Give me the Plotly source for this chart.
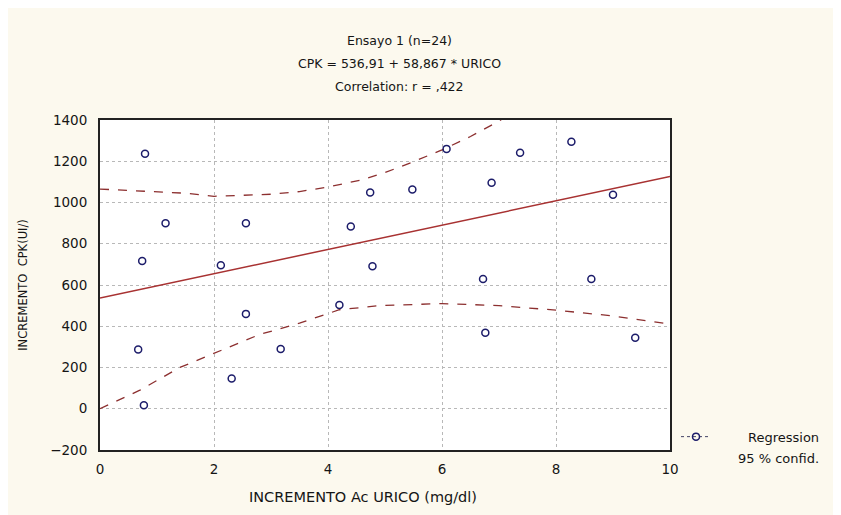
import plotly.graph_objects as go
import numpy as np

# Data
acido_urico = [0.79, 1.15, 0.74, 2.12, 2.56, 0.67, 0.77, 2.31, 2.56, 3.17,
               4.74, 5.48, 6.08, 7.37, 8.27, 6.87, 9.00, 4.40, 4.78, 6.72,
               8.62, 4.20, 6.76, 9.39]
cpk = [1236, 899, 716, 696, 899, 287, 17, 147, 460, 290,
       1048, 1063, 1260, 1241, 1294, 1096, 1038, 884, 691, 629,
       629, 503, 369, 344]

intercept = 536.91
slope = 58.867

upper_x = [0, 0.7, 1.5, 2.0, 2.5, 3.0, 3.5, 4.0, 4.6, 5.0, 5.5, 6.0, 6.5, 7.0, 7.2]
upper_y = [1065, 1055, 1045, 1030, 1035, 1040, 1053, 1075, 1110, 1145, 1198, 1255, 1320, 1395, 1430]
lower_x = [0, 0.7, 1.4, 2.0, 2.8, 3.5, 4.2, 4.9, 6.0, 7.0, 8.0, 9.0, 10.0]
lower_y = [0, 90, 200, 270, 360, 415, 480, 500, 510, 500, 478, 450, 410]

x_ticks = [0, 2, 4, 6, 8, 10]
y_ticks = [-200, 0, 200, 400, 600, 800, 1000, 1200, 1400]

reg_x = np.array([0, 10])
reg_y = intercept + slope * reg_x

FONT = "DejaVu Sans, Verdana, sans-serif"
DASH_COLOR = "#8c2f2f"
TXT = "#151515"

# plot-area pixel geometry (screen coords, used for text placement)
PX0, PX1, PY0, PY1 = 100, 670, 120, 450


def px(xs):
    return (xs - PX0) / (PX1 - PX0)


def py(ys):
    return (PY1 - ys) / (PY1 - PY0)


fig = go.Figure()
fig.add_trace(go.Scatter(x=upper_x, y=upper_y, mode="lines",
                         line=dict(color=DASH_COLOR, width=1.3, dash="dash"),
                         showlegend=False, hoverinfo="skip"))
fig.add_trace(go.Scatter(x=lower_x, y=lower_y, mode="lines",
                         line=dict(color=DASH_COLOR, width=1.3, dash="dash"),
                         showlegend=False, hoverinfo="skip"))
fig.add_trace(go.Scatter(x=reg_x, y=reg_y, mode="lines",
                         line=dict(color="#a83232", width=1.5),
                         showlegend=False))
fig.add_trace(go.Scatter(x=acido_urico, y=cpk, mode="markers",
                         marker=dict(symbol="circle-open", size=7,
                                     color="#1c1c6a", line=dict(width=1.5)),
                         showlegend=False))
# legend symbol
fig.add_trace(go.Scatter(x=[None], y=[None], mode="lines+markers",
                         name=" ",
                         line=dict(color="#444466", width=1, dash="dot"),
                         marker=dict(symbol="circle-open", size=7, color="#1c1c6a",
                                     line=dict(width=1.5)),
                         showlegend=True))

for txt, yy in [("Ensayo 1 (n=24)", 40), ("CPK = 536,91 + 58,867 * URICO", 63),
                ("Correlation: r = ,422", 86)]:
    fig.add_annotation(text=txt, xref="paper", yref="paper", x=px(399),
                       y=py(yy), showarrow=False,
                       font=dict(family=FONT, size=12.5, color=TXT),
                       xanchor="center", yanchor="middle")

# legend texts
for txt, yy in [("Regression", 437), ("95 % confid.", 458)]:
    fig.add_annotation(text=txt, xref="paper", yref="paper", x=px(821),
                       y=py(yy), showarrow=False,
                       font=dict(family=FONT, size=13, color=TXT),
                       xanchor="right", yanchor="middle")

# x axis title
fig.add_annotation(text="INCREMENTO Ac URICO (mg/dl)", xref="paper", yref="paper",
                   x=px(363), y=py(497), showarrow=False,
                   font=dict(family=FONT, size=14.5, color=TXT),
                   xanchor="center", yanchor="middle")

fig.update_layout(
    width=841, height=515,
    margin=dict(l=92, r=179, t=112, b=73),
    paper_bgcolor="#fcf9ee",
    plot_bgcolor="#ffffff",
    font=dict(family=FONT, size=13, color=TXT),
    legend=dict(x=px(676), y=py(437), xanchor="left", yanchor="middle",
                bgcolor="rgba(0,0,0,0)", itemwidth=30,
                font=dict(family=FONT, size=12.5)),
    xaxis=dict(range=[0, 10], tickvals=x_ticks, showgrid=True,
               gridcolor="#b8b8b8", griddash="dot", gridwidth=1,
               showline=True, linecolor="#222222", linewidth=2, mirror=True,
               zeroline=False, ticks="", ticklabelstandoff=6,
               tickfont=dict(size=13.5)),
    yaxis=dict(range=[-200, 1400], tickvals=y_ticks, showgrid=True,
               gridcolor="#b8b8b8", griddash="dot", gridwidth=1,
               showline=True, linecolor="#222222", linewidth=2, mirror=True,
               zeroline=False, ticks="", ticklabelstandoff=8,
               tickfont=dict(size=13.5),
               title=dict(text="INCREMENTO  CPK(UI/)", standoff=20,
                          font=dict(family=FONT, size=11.5))),
)

fig.write_html("out.html")
